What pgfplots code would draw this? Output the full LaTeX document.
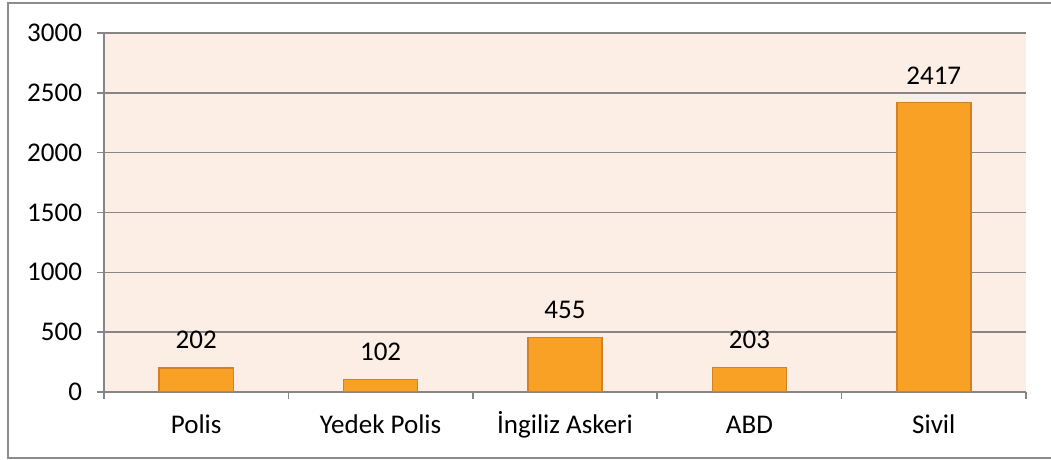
\documentclass[border=0pt]{standalone}
\usepackage{pgfplots}
\pgfplotsset{compat=1.18}
\usepackage{fontspec}
\setmainfont{Carlito}
\definecolor{barfill}{RGB}{249,161,37}
\definecolor{barline}{RGB}{210,130,38}
\definecolor{peach}{RGB}{253,238,229}
\definecolor{gridgray}{RGB}{134,134,134}
\definecolor{framegray}{RGB}{140,140,140}
\begin{document}
\begin{tikzpicture}[x=1pt,y=1pt]
\useasboundingbox (0,0) rectangle (525.5,230);
\draw[framegray, line width=1pt] (530,228.5) -- (4,228.5) -- (4,1) -- (530,1);
\begin{axis}[
  at={(52pt,34pt)}, anchor=south west,
  scale only axis, width=461pt, height=179.5pt,
  xmin=-0.5, xmax=4.5, ymin=0, ymax=3000,
  ybar, bar width=37pt,
  axis x line*=bottom, axis y line*=left,
  axis line style={draw=gridgray, line width=0.75pt, -},
  axis background/.style={fill=peach},
  xtick={0,1,2,3,4},
  xticklabels={Polis, Yedek Polis, İngiliz Askeri, ABD, Sivil},
  major x tick style={draw=none},
  minor xtick={-0.5,0.5,1.5,2.5,3.5,4.5},
  minor x tick style={draw=gridgray, line width=0.75pt},
  minor tick length=3.5pt,
  ytick={0,500,...,3000},
  major tick length=3.5pt,
  y tick style={draw=gridgray, line width=0.75pt},
  tick align=outside,
  ymajorgrids,
  major grid style={draw=gridgray, line width=0.75pt},
  /pgf/number format/assume math mode=true,
  /pgf/number format/1000 sep={},
  tick label style={font=\fontsize{13.5}{16}\selectfont, text=black},
  yticklabel style={xshift=-4pt},
  xticklabel style={text height=9.5pt, text depth=0pt, yshift=-4pt},
  nodes near coords,
  every node near coord/.append style={font=\fontsize{13.5}{16}\selectfont, text=black, anchor=south, inner sep=0pt, yshift=9pt},
]
\addplot[fill=barfill, draw=barline, line width=0.7pt] coordinates {(0,202) (1,102) (2,455) (3,203) (4,2417)};
\end{axis}
\end{tikzpicture}
\end{document}
